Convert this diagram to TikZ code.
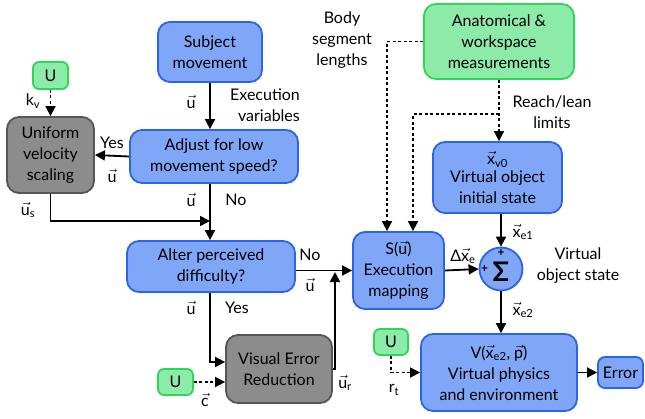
\documentclass[tikz,border=0pt]{standalone}
\usepackage{amsmath}
\usepackage{fontspec}
\setmainfont{Lato}
\usetikzlibrary{arrows.meta}
\definecolor{bluefill}{RGB}{127,166,247}
\definecolor{blueline}{RGB}{43,100,232}
\definecolor{greenfill}{RGB}{140,235,168}
\definecolor{greenline}{RGB}{45,215,85}
\definecolor{grayfill}{RGB}{140,140,140}
\definecolor{grayline}{RGB}{85,85,85}
\newcommand{\vv}[1]{$\vec{\text{#1}}$}
\tikzset{
  box/.style={rounded corners=12pt, line width=1.8pt, align=center, inner sep=2pt},
  blubox/.style={box, fill=bluefill, draw=blueline},
  grnbox/.style={box, fill=greenfill, draw=greenline},
  grybox/.style={box, fill=grayfill, draw=grayline},
  lbl/.style={align=center, inner sep=0pt},
  arr/.style={line width=1.8pt, -{Triangle[length=10pt,width=10pt]}},
  dsh/.style={line width=1.7pt, dash pattern=on 3pt off 2.5pt},
  dsharr/.style={dsh, -{Triangle[length=10pt,width=10pt]}},
}
\begin{document}
\begin{tikzpicture}[x=1pt, y=-1pt, font=\fontsize{16}{21}\selectfont]
\useasboundingbox (0,0) rectangle (645,418);

% left column
\node[blubox, minimum width=104pt, minimum height=60pt] (subj) at (210,52) {Subject\\movement};
\node[blubox, minimum width=168pt, minimum height=53pt] (adj) at (214,156.5) {Adjust for low\\movement speed?};
\node[grnbox, minimum width=35pt, minimum height=27pt, rounded corners=6pt] (u1) at (50.5,75.5) {U};
\node[grybox, minimum width=87pt, minimum height=76pt] (uvs) at (50.5,155) {Uniform\\velocity\\scaling};
\node[blubox, minimum width=168pt, minimum height=51pt] (alter) at (211,266.5) {Alter perceived\\difficulty?};
\node[grybox, minimum width=106pt, minimum height=68pt] (ver) at (279,369) {Visual Error\\Reduction};
\node[grnbox, minimum width=35pt, minimum height=26pt, rounded corners=6pt] (u2) at (175.5,382) {U};

% right column
\node[grnbox, minimum width=150pt, minimum height=75pt] (anat) at (499,41.5) {Anatomical \&\\workspace\\measurements};
\node[blubox, minimum width=129pt, minimum height=71pt] (vo) at (497.5,177.5) {\vv{x}$_{\text{v0}}$\\[-3pt]Virtual object\\initial state};
\node[blubox, minimum width=91pt, minimum height=77pt] (smap) at (398.5,270.5) {S(\vv{u})\\Execution\\mapping};
\node[blubox, circle, minimum size=43pt, inner sep=0pt] (sig) at (501,269) {};
\node[lbl, font=\fontsize{27}{27}\bfseries] (sgm) at ([yshift=-3pt]sig.center) {Σ};
\node[blubox, minimum width=156pt, minimum height=77pt] (vphys) at (499,372.5) {V(\vv{x}$_{\text{e2}}$, \vv{p})\\Virtual physics\\and environment};
\node[blubox, minimum width=45pt, minimum height=31pt, rounded corners=7pt] (err) at (620.5,372.5) {Error};
\node[grnbox, minimum width=34pt, minimum height=26pt, rounded corners=6pt] (u3) at (391,342) {U};

% free labels
\node[lbl] (bsl) at (342,40) {Body\\segment\\lengths};
\node[lbl, align=right] (exv) at (265,105) {Execution\\variables};
\node[lbl] (rll) at (552,112) {Reach/lean\\limits};
\node[lbl] (vos) at (578,266) {Virtual\\object state};
\node[lbl, font=\fontsize{12}{12}\bfseries] (pl1) at ([yshift=-6pt]sig.north) {+};
\node[lbl, font=\fontsize{12}{12}\bfseries] (pl2) at ([xshift=6pt]sig.west) {+};

% helper points
\coordinate (mrg) at (210,221);
\coordinate (ur) at (335,272);
\coordinate (brk) at (499,114);

% flow arrows
\draw[arr] (subj.south) -- (subj.south |- adj.north);
\draw[arr] (adj.west) -- (uvs.east);
\draw[dsharr] (u1.south) -- (uvs.north);
\draw[arr] (uvs.south) |- (mrg);
\draw[arr] (adj.south -| mrg) -- (mrg |- alter.north);
\draw[arr] (smap.west -| alter.east) -- (smap.west);
\draw[arr] (alter.south -| mrg) |- ([yshift=7pt]ver.west);
\draw[arr] (ver.east) -| (ur);
\draw[dsharr] (u2.east) -- (u2.east -| ver.west);
\draw[dsharr] (anat.west) -| ([xshift=-11.5pt]smap.north);
\draw[dsharr] (brk) -| ([xshift=14.5pt]smap.north);
\draw[dsharr] (anat.south) -- (anat.south |- vo.north);
\draw[arr] (vo.south -| sig.north) -- (sig.north);
\draw[arr] (smap.east) -- (sig.west);
\draw[arr] (sig.south) -- (sig.south |- vphys.north);
\draw[arr] (vphys.east) -- (err.west);
\draw[dsharr] (u3.south) |- (vphys.west);

% connector labels
\node[lbl] at (191,102) {\vv{u}};
\node[lbl] at (33,101) {k$_{\text{v}}$};
\node[lbl] at (112,143) {Yes};
\node[lbl] at (112,176) {\vv{u}};
\node[lbl] at (28,210) {\vv{u}$_{\text{s}}$};
\node[lbl] at (191,200) {\vv{u}};
\node[lbl] at (236,200) {No};
\node[lbl] at (310,255) {No};
\node[lbl] at (310,285) {\vv{u}};
\node[lbl] at (191,308) {\vv{u}};
\node[lbl] at (237,308) {Yes};
\node[lbl] at (205,400) {\vv{c}};
\node[lbl] at (345,383) {\vv{u}$_{\text{r}}$};
\node[lbl] at (463,256) {Δ\vv{x}$_{\text{e}}$};
\node[lbl] at (523,232) {\vv{x}$_{\text{e1}}$};
\node[lbl] at (523,310) {\vv{x}$_{\text{e2}}$};
\node[lbl] at (394,390) {r$_{\text{t}}$};
\end{tikzpicture}
\end{document}
